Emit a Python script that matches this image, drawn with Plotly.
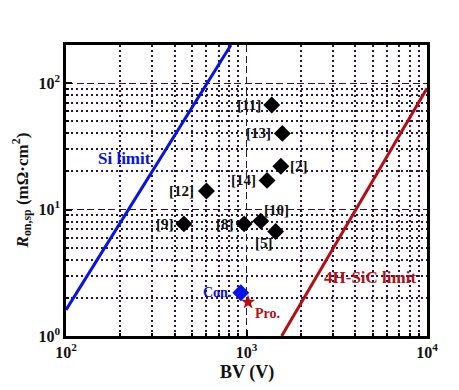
import numpy as np
import plotly.graph_objects as go

# ---- data ----
ref_labels = ["[11]", "[13]", "[2]", "[14]", "[12]", "[9]", "[8]", "[10]", "[5]"]
ref_bv = [1380, 1580, 1550, 1300, 600, 450, 970, 1200, 1450]
ref_ron = [67, 40, 22, 17, 14, 7.7, 7.7, 8.1, 6.7]

si_bv = [100, 820]
si_ron = [1.61, 200]
sic_bv = [1567, 10000]
sic_ron = [1.0, 91]

con_bv = [930]
con_ron = [2.2]
pro_bv = [1020]
pro_ron = [1.85]

x_ticks = [100, 1000, 10000]
x_ticktext = ["10<sup>2</sup>", "10<sup>3</sup>", "10<sup>4</sup>"]
y_ticks = [1, 10, 100]
y_ticktext = ["10<sup>0</sup>", "10<sup>1</sup>", "10<sup>2</sup>"]

FONT = "Liberation Serif, Times New Roman, serif"
BLUE = "#0512e8"
RED = "#b50d12"
GRID = "#2a1250"

fig = go.Figure()
fig.add_trace(go.Scatter(x=si_bv, y=si_ron, mode="lines",
                         line=dict(color=BLUE, width=3), showlegend=False))
fig.add_trace(go.Scatter(x=sic_bv, y=sic_ron, mode="lines",
                         line=dict(color=RED, width=3), showlegend=False))
fig.add_trace(go.Scatter(x=ref_bv, y=ref_ron, mode="markers",
                         marker=dict(symbol="diamond", size=13, color="black"),
                         showlegend=False))
fig.add_trace(go.Scatter(x=con_bv, y=con_ron, mode="markers",
                         marker=dict(symbol="diamond", size=13, color=BLUE),
                         showlegend=False))
fig.add_trace(go.Scatter(x=pro_bv, y=pro_ron, mode="markers",
                         marker=dict(symbol="star", size=11, color=RED),
                         showlegend=False))

# label placements (anchor, xshift, yshift) for reference points
placement = {
    "[11]": ("right", -9, 0),
    "[13]": ("right", -9, 0),
    "[2]": ("left", 7, 0),
    "[14]": ("right", -9, 0),
    "[12]": ("right", -10, 0),
    "[9]": ("right", -8, 0),
    "[8]": ("right", -8, 0),
    "[10]": ("center", 16, 11),
    "[5]": ("center", -12, -11),
}
annotations = []
for lab, bx, ry in zip(ref_labels, ref_bv, ref_ron):
    anc, xs, ys = placement[lab]
    annotations.append(dict(x=np.log10(bx), y=np.log10(ry), xref="x", yref="y",
                            text="<b>" + lab + "</b>", showarrow=False,
                            xanchor=anc, yanchor="middle", xshift=xs, yshift=ys,
                            font=dict(family=FONT, size=15, color="#111111")))

annotations.append(dict(x=np.log10(con_bv[0]), y=np.log10(con_ron[0]), xref="x", yref="y",
                        text="<b>Con.</b>", showarrow=False, xanchor="right",
                        xshift=-8, yshift=0,
                        font=dict(family=FONT, size=14, color=BLUE)))
annotations.append(dict(x=np.log10(pro_bv[0]), y=np.log10(pro_ron[0]), xref="x", yref="y",
                        text="<b>Pro.</b>", showarrow=False, xanchor="left",
                        xshift=5, yshift=-11,
                        font=dict(family=FONT, size=14, color=RED)))
annotations.append(dict(x=np.log10(212), y=np.log10(25.4), xref="x", yref="y",
                        text="<b>Si limit</b>", showarrow=False,
                        font=dict(family=FONT, size=17, color=BLUE)))
annotations.append(dict(x=np.log10(4830), y=np.log10(2.88), xref="x", yref="y",
                        text="<b>4H-SiC limit</b>", showarrow=False,
                        font=dict(family=FONT, size=17, color=RED)))
# axis titles
annotations.append(dict(x=0.5, y=-0.127, xref="paper", yref="paper",
                        text="<b>BV (V)</b>", showarrow=False,
                        xanchor="center", yanchor="middle",
                        font=dict(family=FONT, size=18, color="#111111")))
annotations.append(dict(x=-0.122, y=0.5, xref="paper", yref="paper", textangle=-90,
                        text="<b><i>R</i><sub>on,sp</sub> (mΩ·cm<sup>2</sup>)</b>",
                        showarrow=False, xanchor="center", yanchor="middle",
                        font=dict(family=FONT, size=17, color="#111111")))

minor_x = [m * d for d in (100, 1000) for m in range(2, 10)]
minor_y = [m * d for d in (1, 10, 100) for m in range(2, 10) if m * d <= 200]

axis_common = dict(
    type="log", showline=True, linewidth=2.5, linecolor="black", mirror=True,
    ticks="inside", ticklen=6, tickwidth=1.5, tickcolor="black",
    showgrid=True, gridcolor=GRID, gridwidth=1.4, griddash="7px,3.5px",
    zeroline=False, tickmode="array",
    tickfont=dict(family=FONT, size=16, color="#111111"),
)
minor_common = dict(tickmode="array", ticks="inside", ticklen=3, tickcolor="black",
                    showgrid=True, gridcolor=GRID, griddash="1.5px,3.5px", gridwidth=1.5)

fig.update_xaxes(range=[2, 4], tickvals=x_ticks,
                 ticktext=["<b>" + t + "</b>" for t in x_ticktext],
                 minor=dict(tickvals=minor_x, **minor_common),
                 **axis_common)
fig.update_yaxes(range=[0, np.log10(200)], tickvals=y_ticks,
                 ticktext=["<b>" + t + "</b>" for t in y_ticktext],
                 minor=dict(tickvals=minor_y, **minor_common),
                 **axis_common)

# the page body adds an 8 px offset, so the figure is drawn 8 px smaller
fig.update_layout(
    width=451, height=382,
    margin=dict(l=58, r=32, t=37, b=54),
    paper_bgcolor="white", plot_bgcolor="white",
    annotations=annotations,
    font=dict(family=FONT),
)

fig.write_html("out.html")
